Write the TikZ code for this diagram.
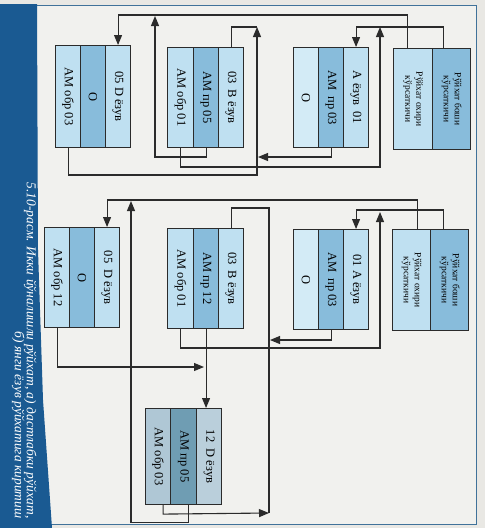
\documentclass[tikz,border=0pt]{standalone}
\usepackage{fontspec}
\setmainfont{Liberation Serif}
\usetikzlibrary{arrows.meta}

\definecolor{paper}{HTML}{E9E8E4}
\definecolor{inner}{HTML}{F1F1EE}
\definecolor{band}{HTML}{1A5A92}
\definecolor{frameline}{HTML}{40729A}
\definecolor{ink}{HTML}{2B2B2B}
\definecolor{cellpale}{HTML}{D3EBF6}
\definecolor{celllight}{HTML}{BFE0F1}
\definecolor{cellmid}{HTML}{88BCDB}
\definecolor{greylight}{HTML}{AFC7D5}
\definecolor{greymid}{HTML}{6F9DB3}
\definecolor{greypale}{HTML}{BACFDB}

% vertical cell labels, read from top to bottom
\newcommand{\vtext}[1]{\rotatebox{-90}{#1}}
\newcommand{\vtwo}[2]{\rotatebox{-90}{\begin{tabular}{@{}c@{}}#1\\#2\end{tabular}}}

\begin{document}
\begin{tikzpicture}[x=1pt,y=-1pt,
  cell/.style={draw=ink, line width=1.1pt, inner sep=0pt, anchor=north west,
    minimum height=100pt, font=\fontsize{12.5}{14}\selectfont},
  headcell/.style={cell, minimum height=101pt, font=\fontsize{9.5}{11}\selectfont},
  link/.style={draw=ink, line width=1.1pt},
  arr/.style={link, -{Triangle[length=10pt,width=8pt]}},
]
\useasboundingbox (0,0) rectangle (485,528);

% page, frame and caption band
\fill[paper] (0,0) rectangle (485,528);
\fill[inner] (37,5) rectangle (476,524);
\draw[frameline, line width=1pt] (37,5) -- (476,5) -- (476,524) -- (37,524);
\fill[band] (0,4) -- (37,4) -- (38,250) -- (43,400) -- (52,528) -- (0,528) -- cycle;

\node[rotate=-90, anchor=base east, text=white, font=\itshape\fontsize{13.5}{15}\selectfont]
  (cap1) at (27,522) {5.10-расм. Икки йўналишли рўйхат, а) дастлабки рўйхат,};
\node[rotate=-90, anchor=base east, text=white, font=\itshape\fontsize{13.5}{15}\selectfont]
  (cap2) at (15,522) {б) янги ёзув рўйхатига киритиш};

% ---------- a) initial list ----------
\node[headcell, fill=celllight, minimum width=39pt] (h1e) at (393,48) {\vtwo{Рўйхат охири}{кўрсаткичи}};
\node[headcell, fill=cellmid, minimum width=38pt] (h1b) at (432,48) {\vtwo{Рўйхат боши}{кўрсаткичи}};

\node[cell, fill=cellpale, minimum width=25pt] (a1o) at (293,47) {\vtext{О}};
\node[cell, fill=cellmid, minimum width=25pt] (a1p) at (318,47) {\vtext{АМ\ \ пр\ 03}};
\node[cell, fill=celllight, minimum width=25pt] (a1v) at (343,47) {\vtext{А ёзув\ \ 01}};

\node[cell, fill=celllight, minimum width=26pt] (b1o) at (167,47) {\vtext{АМ обр 01}};
\node[cell, fill=cellmid, minimum width=25pt] (b1p) at (193,47) {\vtext{АМ\ пр\ 05}};
\node[cell, fill=celllight, minimum width=25pt] (b1v) at (218,47) {\vtext{03\ \ В ёзув}};

\node[cell, fill=celllight, minimum width=25pt, minimum height=102pt] (d1o) at (55,45) {\vtext{АМ обр 03}};
\node[cell, fill=cellmid, minimum width=25pt, minimum height=102pt] (d1n) at (80,45) {\vtext{О}};
\node[cell, fill=celllight, minimum width=25pt, minimum height=102pt] (d1v) at (105,45) {\vtext{05 D ёзув}};

\coordinate (jA1) at (380,27);
\coordinate (jB1) at (257,27);
\coordinate (jD1) at (155,16);
\coordinate (kB1) at (258,157);

\draw[arr] ([xshift=-8pt]h1b.north) -- ++(0,-21) -| (a1v.north);
\draw[arr] ([xshift=-6pt]h1e.north) -- ++(0,-33) -| (d1v.north);
\draw[link] (b1v.north) |- (jB1);
\draw[arr] (d1o.south) -- (d1o.south |- 0,175) -| (jB1);
\draw[arr] (b1o.south) -- (b1o.south |- 0,167) -| (jA1);
\draw[arr] (b1p.south) -- (b1p.south |- 0,157) -| (jD1);
\draw[arr] (a1p.south) -- (a1p.south |- 0,157) -- (kB1);

% ---------- b) inserting a new record ----------
\node[headcell, fill=celllight, minimum width=38pt] (h2e) at (392,229) {\vtwo{Рўйхат охири}{кўрсаткичи}};
\node[headcell, fill=cellmid, minimum width=38pt] (h2b) at (430,229) {\vtwo{Рўйхат боши}{кўрсаткичи}};

\node[cell, fill=cellpale, minimum width=25pt] (a2o) at (293,229) {\vtext{О}};
\node[cell, fill=cellmid, minimum width=25pt] (a2p) at (318,229) {\vtext{АМ\ \ пр\ 03}};
\node[cell, fill=celllight, minimum width=25pt] (a2v) at (343,229) {\vtext{01\ А ёзув}};

\node[cell, fill=celllight, minimum width=26pt] (b2o) at (167,228) {\vtext{АМ обр 01}};
\node[cell, fill=cellmid, minimum width=25pt] (b2p) at (193,228) {\vtext{АМ\ пр\ 12}};
\node[cell, fill=celllight, minimum width=25pt] (b2v) at (218,228) {\vtext{03\ \ В ёзув}};

\node[cell, fill=celllight, minimum width=25pt] (d2o) at (44,227) {\vtext{АМ обр 12}};
\node[cell, fill=cellmid, minimum width=25pt] (d2n) at (69,227) {\vtext{О}};
\node[cell, fill=celllight, minimum width=25pt] (d2v) at (94,227) {\vtext{05\ \ D ёзув}};

\node[cell, fill=greylight, minimum width=25pt, minimum height=96pt] (c2o) at (145,408) {\vtext{АМ обр 03}};
\node[cell, fill=greymid, minimum width=26pt, minimum height=96pt] (c2p) at (170,408) {\vtext{АМ пр 05}};
\node[cell, fill=greypale, minimum width=25pt, minimum height=96pt] (c2v) at (196,408) {\vtext{12\ \ D ёзув}};

\coordinate (jA2) at (380,212);
\coordinate (jD2) at (131,201);
\coordinate (sB2) at (269,513);
\coordinate (kB2) at (270,340);
\coordinate (kC2) at (204,367);

\draw[arr] ([xshift=-6pt]h2b.north) -- ++(0,-19) -| (a2v.north);
\draw[arr] ([xshift=6pt]h2e.north) -- ++(0,-29) -| (d2v.north);
\draw[link] (b2v.north) |- (269,208) -- (sB2);
\draw[arr] (a2p.south) -- (a2p.south |- 0,340) -- (kB2);
\draw[arr] (b2o.south) -- (b2o.south |- 0,348) -| (jA2);
\draw[arr] (b2p.south) -- (b2p.south |- c2v.north);
\draw[arr] (d2o.south) -- (d2o.south |- 0,367) -- (kC2);
\draw[arr] ([xshift=5pt]c2o.south) -- ++(0,9) -- (sB2);
\draw[arr] ([xshift=5pt]c2p.south) -- ++(0,17) -| (jD2);
\end{tikzpicture}
\end{document}
